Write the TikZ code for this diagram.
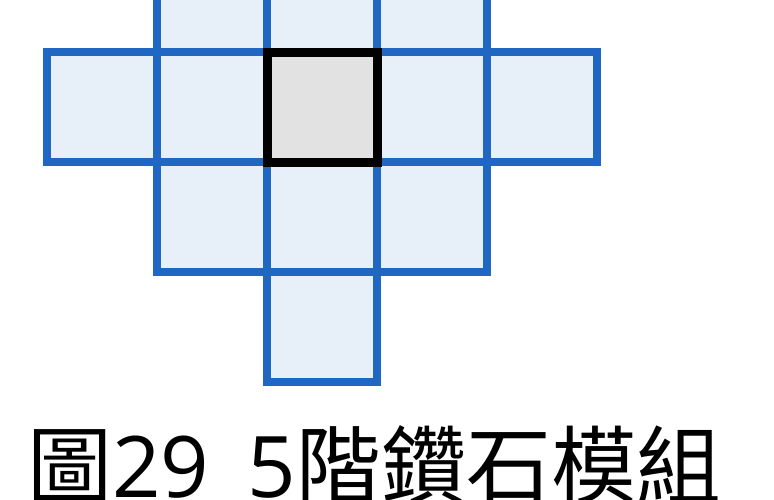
\documentclass[tikz,border=0pt]{standalone}
\usepackage{fontspec}
\setmainfont{Open Sans}
\newfontfamily\cjk{Noto Sans CJK TC}
\usepackage{xcolor}
\usetikzlibrary{positioning}

\definecolor{gridblue}{HTML}{2067C3}
\definecolor{cellfill}{HTML}{E7EFF9}
\definecolor{corefill}{HTML}{E2E2E2}

\begin{document}
\begin{tikzpicture}[
    x=1pt, y=1pt,
    node distance=0pt,
    cell/.style={draw=gridblue, line width=8pt, fill=cellfill, minimum size=110pt, inner sep=0pt, outer sep=0pt},
    core/.style={draw=black, line width=9pt, fill=corefill, minimum size=110pt, inner sep=0pt, outer sep=0pt},
]
\useasboundingbox (0,0) rectangle (774,-499);
\clip (0,0) rectangle (774,-499);

% Middle row, centre cell first
\node[core] (mid3) at (322,-107) {};
\node[cell, left=of mid3] (mid2) {};
\node[cell, left=of mid2] (mid1) {};
\node[cell, right=of mid3] (mid4) {};
\node[cell, right=of mid4] (mid5) {};

% Top row (cut by the page edge)
\node[cell, above=of mid3] (top2) {};
\node[cell, left=of top2] (top1) {};
\node[cell, right=of top2] (top3) {};

% Lower row and tip
\node[cell, below=of mid3] (low2) {};
\node[cell, left=of low2] (low1) {};
\node[cell, right=of low2] (low3) {};
\node[cell, below=of low2] (tip) {};

% Centre border back on top
\draw[black, line width=9pt] (mid3.south west) rectangle (mid3.north east);

% Caption
\node[anchor=base west, inner sep=0pt, font=\fontsize{85pt}{85pt}\selectfont] (caption) at (27,-497)
    {{\cjk 圖}29\hspace{38pt}5{\cjk 階鑽石模組}};

\end{tikzpicture}
\end{document}
